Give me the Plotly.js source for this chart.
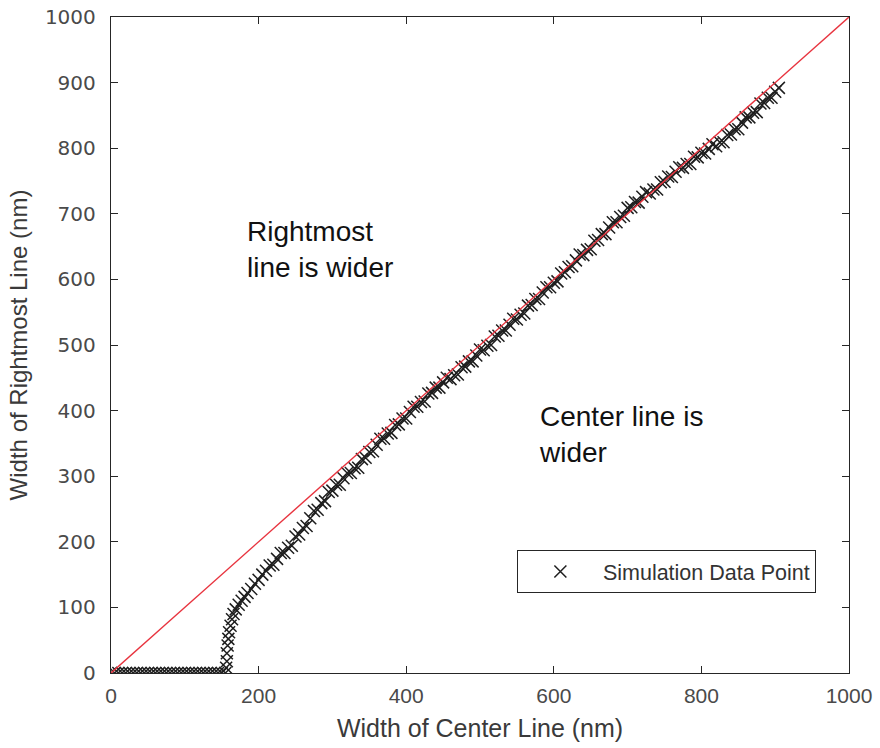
<!DOCTYPE html>
<html>
<head>
<meta charset="utf-8">
<script src="https://cdn.plot.ly/plotly-3.0.1.min.js"></script>
<style>html,body{margin:0;padding:0;background:#fff;}#chart{width:880px;height:748px;}</style>
</head>
<body>
<div id="chart"></div>
<script>
// Simulation data points: width of center line (nm) vs width of rightmost line (nm)
const centerWidth = [
  0,5,10,15,20,25,30,35,40,45,50,55,60,65,70,75,80,85,90,95,100,105,110,115,120,125,130,135,140,145,150,155,
  156,157,157,158,159,160,162,164,166,169,173,177,181,185,190,195,200,205,210,
  215,220,225,230,235,240,245,250,255,260,265,270,275,280,285,290,295,300,305,310,315,320,325,330,335,340,345,350,355,360,
  365,370,375,380,385,390,395,400,405,410,415,420,425,430,435,440,445,450,455,460,465,470,475,480,485,490,495,500,
  505,510,515,520,525,530,535,540,545,550,555,560,565,570,575,580,585,590,595,600,605,610,615,620,625,630,635,640,
  645,650,655,660,665,670,675,680,685,690,695,700,705,710,715,720,725,730,735,740,745,750,755,760,765,770,775,780,
  785,790,795,800,805,810,815,820,825,830,835,840,845,850,855,860,865,870,875,880,885,890,895,900,905
];
const rightmostWidth = [
  0,0,0,0,0,0,0,0,0,0,0,0,0,0,0,0,0,0,0,0,0,0,0,0,0,0,0,0,0,0,0,0,
  8,18,30,42,52,62,72,82,90,97,104,110,116,122,128,136,142,150,156,
  164,165,174,183,183,191,194,208,211,221,224,236,247,249,259,262,276,278,287,287,297,305,305,312,313,326,328,337,338,348,
  357,357,365,366,378,379,388,388,398,406,406,413,414,426,427,435,435,443,450,448,454,455,466,467,475,475,484,493,
  492,499,500,513,514,522,522,531,540,539,546,548,560,561,570,570,580,588,588,595,597,609,611,619,620,629,638,637,
  645,646,659,660,669,669,679,687,687,695,697,709,710,718,717,726,733,731,737,737,748,749,757,756,764,771,770,776,
  776,787,786,793,792,799,806,803,809,809,820,821,829,829,839,847,847,854,855,868,869,877,877,886,892
];
// Reference line y = x
const refX = [0, 1000];
const refY = [0, 1000];
const xTicks = [0, 200, 400, 600, 800, 1000];
const yTicks = [0, 100, 200, 300, 400, 500, 600, 700, 800, 900, 1000];

const axisColor = '#262626';
const font = 'Liberation Sans, Arial, Helvetica, sans-serif';

const traces = [
  {
    x: centerWidth, y: rightmostWidth, type: 'scatter', mode: 'markers',
    name: 'Simulation Data Point',
    marker: {symbol: 'x-thin', size: 12, color: '#1e1e1e', line: {width: 1.5, color: '#1e1e1e'}}
  },
  {
    x: refX, y: refY, type: 'scatter', mode: 'lines', showlegend: false,
    line: {color: '#e8343f', width: 1.4}
  }
];

const layout = {
  width: 880, height: 748,
  margin: {l: 111, r: 31, t: 17, b: 75},
  paper_bgcolor: '#ffffff', plot_bgcolor: '#ffffff',
  font: {family: font, color: '#262626'},
  showlegend: true,
  legend: {
    x: 0.55, xanchor: 'left', y: 0.1875, yanchor: 'top',
    bgcolor: '#ffffff', bordercolor: axisColor, borderwidth: 1,
    font: {size: 21.5, color: '#333333', family: font},
    itemwidth: 75
  },
  xaxis: {
    range: [0, 1000], tickvals: xTicks, ticktext: xTicks.map(String),
    showgrid: false, zeroline: false,
    showline: true, linecolor: axisColor, linewidth: 1.2, mirror: 'ticks',
    ticks: 'inside', ticklen: 7, tickcolor: axisColor, tickwidth: 1,
    tickfont: {size: 21, color: '#4a4a4a', family: font},
    ticklabelstandoff: 4,
    title: {text: 'Width of Center Line (nm)', font: {size: 25, color: '#3a3a3a', family: font}, standoff: 13}
  },
  yaxis: {
    range: [0, 1000], tickvals: yTicks, ticktext: yTicks.map(String),
    showgrid: false, zeroline: false,
    showline: true, linecolor: axisColor, linewidth: 1.2, mirror: 'ticks',
    ticks: 'inside', ticklen: 7, tickcolor: axisColor, tickwidth: 1,
    tickfont: {size: 20, color: '#4a4a4a', family: 'DejaVu Sans, sans-serif'},
    ticklabelstandoff: 10,
    title: {text: 'Width of Rightmost Line (nm)', font: {size: 24, color: '#3a3a3a', family: font}, standoff: 10}
  },
  annotations: [
    {x: 182, y: 646, xref: 'x', yref: 'y', xanchor: 'left', yanchor: 'middle', align: 'left',
     text: 'Rightmost<br>line is wider', showarrow: false, font: {size: 28, color: '#111111', family: font}},
    {x: 577, y: 364, xref: 'x', yref: 'y', xanchor: 'left', yanchor: 'middle', align: 'left',
     text: 'Center line is<br>wider', showarrow: false, font: {size: 28, color: '#111111', family: font}}
  ]
};

Plotly.newPlot('chart', traces, layout, {displayModeBar: false, staticPlot: true});
</script>
</body>
</html>
